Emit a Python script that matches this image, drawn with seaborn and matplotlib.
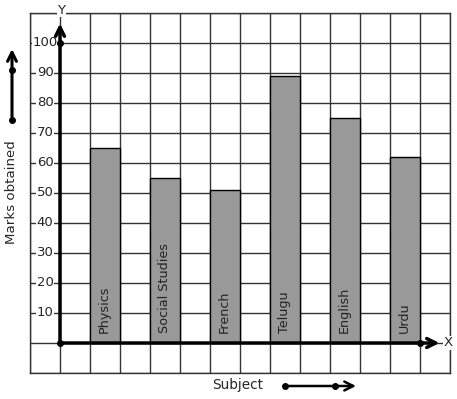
import matplotlib
matplotlib.use("Agg")
import matplotlib.pyplot as plt
import seaborn as sns
import pandas as pd

subjects = ["Physics", "Social Studies", "French", "Telugu", "English", "Urdu"]
marks = [65, 55, 51, 89, 75, 62]
y_ticks = [10, 20, 30, 40, 50, 60, 70, 80, 90, 100]

sns.set_style("white")
plt.rcParams['font.family'] = ['DejaVu Sans']

W, H = 457, 399
fig = plt.figure(figsize=(W / 100, H / 100), dpi=100)
ax = fig.add_axes([30 / W, (H - 373) / H, 420 / W, 360 / H])

positions = [1.5 + 2 * i for i in range(len(subjects))]
df = pd.DataFrame({"pos": positions, "marks": marks, "subject": subjects})

sns.barplot(data=df, x="pos", y="marks", native_scale=True, width=0.5,
            color="#999999", saturation=1, edgecolor="black", linewidth=1,
            ax=ax, zorder=3)

ax.set_xlim(-1, 13)
ax.set_ylim(-10, 110)
ax.set_xticks(range(-1, 14))
ax.set_yticks(range(-10, 111, 10))
ax.grid(True, color="#333333", linewidth=1, zorder=0)
ax.set_axisbelow(True)
ax.tick_params(left=False, bottom=False, labelleft=False, labelbottom=False)
for s in ax.spines.values():
    s.set_color("#333333")
    s.set_linewidth(1)
ax.set_xlabel("")
ax.set_ylabel("")

# Axes with arrows
ax.annotate("", xy=(12.65, 0), xytext=(0, 0),
            arrowprops=dict(arrowstyle="->", lw=2.5, color="black",
                            shrinkA=0, shrinkB=0, mutation_scale=16), zorder=5)
ax.annotate("", xy=(0, 106.5), xytext=(0, 0),
            arrowprops=dict(arrowstyle="->", lw=2.5, color="black",
                            shrinkA=0, shrinkB=0, mutation_scale=16), zorder=5)
ax.plot([0, 0, 12], [0, 100, 0], "o", color="black", ms=4, zorder=6, clip_on=False)

ax.text(0.05, 111, "Y", ha="center", va="center", fontsize=9.5,
        bbox=dict(facecolor="white", edgecolor="none", pad=0.5), clip_on=False, zorder=6)
ax.text(12.95, 0, "X", ha="center", va="center", fontsize=9.5,
        bbox=dict(facecolor="white", edgecolor="none", pad=0.5), clip_on=False, zorder=6)

for v in y_ticks:
    ax.text(-0.5, v, str(v), ha="center", va="center", fontsize=9.5,
            bbox=dict(facecolor="white", edgecolor="none", pad=0.3), zorder=4)

for p, s in zip(positions, subjects):
    ax.text(p - 0.03, 3.4, s, rotation=90, ha="center", va="bottom",
            fontsize=9.2, color="#222222", zorder=5)


def px(x, y):
    return (x / W, 1 - y / H)


fig.text(*px(238, 385), "Subject", ha="center", va="center", fontsize=9.8)
fig.text(*px(12, 192), "Marks obtained", ha="center", va="center",
         rotation=90, fontsize=9.6)

ax.annotate("", xy=px(356, 386), xytext=px(285, 386), xycoords="figure fraction",
            textcoords="figure fraction",
            arrowprops=dict(arrowstyle="->", lw=1.8, color="black",
                            shrinkA=0, shrinkB=0, mutation_scale=16))
ax.annotate("", xy=px(12, 49), xytext=px(12, 120), xycoords="figure fraction",
            textcoords="figure fraction",
            arrowprops=dict(arrowstyle="->", lw=2.2, color="black",
                            shrinkA=0, shrinkB=0, mutation_scale=16))
for (a, b) in [(285, 386), (335, 386), (12, 120), (12, 70)]:
    fig.lines.append(plt.Line2D([a / W], [1 - b / H], marker="o", ms=4,
                                color="black", transform=fig.transFigure))

fig.savefig("out.png", dpi=100)
